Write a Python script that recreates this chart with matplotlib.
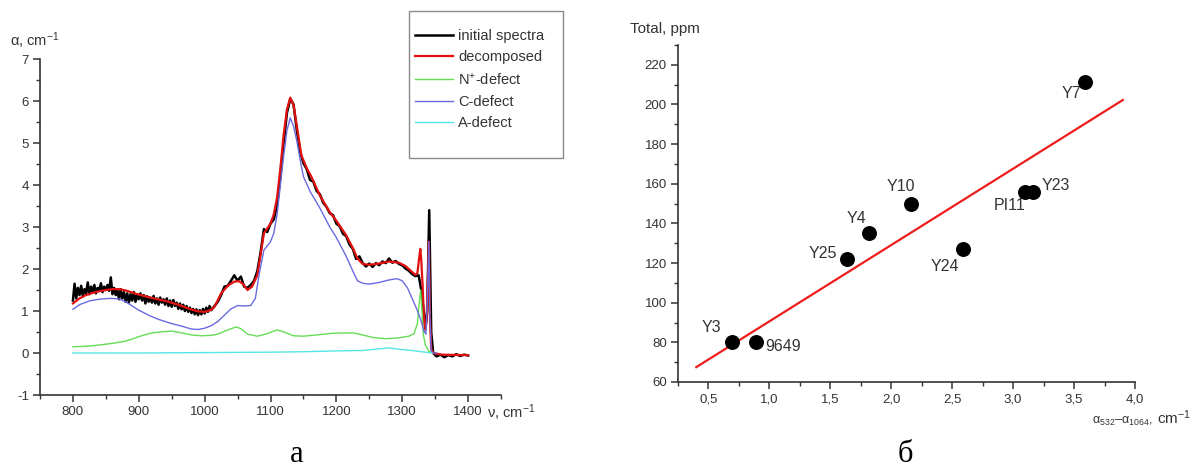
import matplotlib
matplotlib.use('Agg')
import matplotlib.pyplot as plt
import numpy as np
from matplotlib.ticker import MultipleLocator, FuncFormatter
from matplotlib.patches import Rectangle

plt.rcParams['font.family'] = ['Liberation Sans', 'DejaVu Sans']
plt.rcParams['mathtext.fontset'] = 'custom'
plt.rcParams['mathtext.rm'] = 'Liberation Sans'
plt.rcParams['mathtext.it'] = 'Liberation Sans:italic'
plt.rcParams['axes.unicode_minus'] = False

# ---- panel a: spectra ----
# noisy low-frequency part sampled every 2.5 cm-1, the rest every 5 cm-1
nu_init = list(np.arange(800, 1010.1, 2.5)) + [
    1015, 1020, 1025, 1030, 1035, 1040, 1045, 1050, 1055, 1060, 1065, 1070, 1075, 1080, 1085,
    1090, 1095, 1100, 1105, 1110, 1115, 1120, 1125, 1130, 1135, 1140, 1145, 1150, 1155, 1160,
    1165, 1170, 1175, 1180, 1185, 1190, 1195, 1200, 1205, 1210, 1215, 1220, 1225, 1230, 1235,
    1240, 1245, 1250, 1255, 1260, 1265, 1270, 1275, 1280, 1285, 1290, 1295, 1300, 1305, 1310,
    1315, 1320, 1325, 1330, 1335, 1338, 1341, 1344, 1347, 1352, 1358, 1364, 1370, 1376, 1382,
    1388, 1394, 1400]
a_init = [1.25, 1.65, 1.30, 1.55, 1.38, 1.60, 1.35, 1.52, 1.42, 1.68, 1.40, 1.58, 1.45, 1.62,
          1.42, 1.55, 1.48, 1.66, 1.45, 1.58, 1.50, 1.62, 1.48, 1.80, 1.40, 1.55, 1.38, 1.50,
          1.28, 1.52, 1.30, 1.45, 1.22, 1.42, 1.20, 1.40, 1.25, 1.45, 1.22, 1.38, 1.28, 1.42,
          1.25, 1.38, 1.18, 1.35, 1.22, 1.32, 1.20, 1.36, 1.18, 1.30, 1.15, 1.32, 1.20, 1.28,
          1.15, 1.30, 1.12, 1.25, 1.10, 1.26, 1.12, 1.20, 1.05, 1.18, 1.04, 1.15, 1.00, 1.12,
          0.98, 1.08, 0.95, 1.05, 0.92, 1.04, 0.90, 1.02, 0.92, 1.05, 0.94, 1.08, 0.98, 1.12,
          1.02,
          1.12, 1.22, 1.38, 1.58, 1.60, 1.72, 1.85, 1.72, 1.82, 1.58, 1.55, 1.62, 1.72, 1.95,
          2.40, 2.95, 2.88, 3.08, 3.18, 3.52, 4.20, 5.00, 5.72, 6.05, 5.92, 5.30, 4.78, 4.52,
          4.38, 4.12, 4.08, 3.86, 3.78, 3.58, 3.48, 3.33, 3.28, 3.08, 3.02, 2.84, 2.78, 2.58,
          2.48, 2.24, 2.30, 2.14, 2.06, 2.13, 2.05, 2.14, 2.09, 2.18, 2.14, 2.25, 2.15, 2.19,
          2.12, 2.09, 2.01, 1.96, 1.88, 1.83, 1.85, 1.40, 0.60, 1.00, 3.40, 0.50, 0.00, -0.08,
          -0.04, -0.10, -0.05, -0.08, -0.03, -0.07, -0.04, -0.06]

nu_dec = [800, 810, 820, 830, 840, 850, 860, 870, 880, 890, 900, 920, 940, 960, 975, 990, 1000,
          1010, 1015, 1025, 1035, 1045, 1052, 1058, 1065, 1072, 1080, 1085, 1090, 1100, 1105,
          1110, 1115, 1120, 1125, 1130, 1135, 1140, 1147, 1155, 1162, 1175, 1190, 1200, 1215,
          1225, 1232, 1240, 1250, 1265, 1280, 1295, 1305, 1315, 1320, 1323, 1326, 1327.5, 1329,
          1331, 1333, 1335, 1337, 1339, 1340.5, 1342, 1344, 1347, 1360, 1400]
a_dec = [1.18, 1.30, 1.38, 1.43, 1.47, 1.50, 1.52, 1.52, 1.49, 1.44, 1.39, 1.31, 1.24, 1.15,
         1.06, 0.99, 0.98, 1.03, 1.10, 1.42, 1.60, 1.70, 1.71, 1.65, 1.50, 1.58, 1.85, 2.35,
         2.85, 3.08, 3.30, 3.70, 4.40, 5.20, 5.80, 6.08, 5.90, 5.40, 4.70, 4.40, 4.20, 3.75,
         3.35, 3.15, 2.80, 2.50, 2.25, 2.12, 2.10, 2.13, 2.18, 2.15, 2.07, 1.93, 1.86, 1.90,
         2.30, 2.48, 2.20, 1.60, 0.80, 0.55, 0.75, 1.80, 2.65, 0.90, 0.10, 0.00, -0.04, -0.05]

nu_n = [800, 820, 840, 860, 876, 890, 900, 915, 930, 950, 965, 980, 995, 1010, 1020, 1035,
        1048, 1055, 1065, 1080, 1095, 1110, 1120, 1135, 1150, 1170, 1195, 1225, 1240, 1255,
        1275, 1295, 1310, 1318, 1323, 1326, 1328, 1330, 1332, 1335, 1340, 1345]
a_n = [0.15, 0.16, 0.19, 0.23, 0.27, 0.33, 0.39, 0.46, 0.50, 0.52, 0.48, 0.43, 0.41, 0.42,
       0.45, 0.55, 0.62, 0.58, 0.45, 0.40, 0.46, 0.55, 0.50, 0.41, 0.40, 0.43, 0.47, 0.48,
       0.43, 0.37, 0.34, 0.36, 0.40, 0.46, 0.70, 1.20, 1.50, 1.00, 0.45, 0.20, 0.05, 0.01]

nu_c = [800, 810, 825, 840, 855, 870, 880, 890, 900, 915, 930, 950, 965, 980, 990, 1000, 1010,
        1020, 1030, 1040, 1050, 1060, 1070, 1077, 1083, 1090, 1100, 1105, 1110, 1115, 1120,
        1125, 1130, 1135, 1140, 1145, 1150, 1160, 1175, 1190, 1200, 1215, 1225, 1232, 1240,
        1250, 1265, 1280, 1292, 1300, 1308, 1315, 1322, 1328, 1333, 1336, 1338, 1340.5, 1342,
        1344, 1347, 1352]
a_c = [1.04, 1.15, 1.24, 1.28, 1.30, 1.29, 1.22, 1.12, 1.02, 0.90, 0.80, 0.70, 0.64, 0.57,
       0.56, 0.59, 0.65, 0.75, 0.90, 1.05, 1.13, 1.12, 1.13, 1.30, 1.90, 2.45, 2.65, 2.85,
       3.30, 4.00, 4.70, 5.30, 5.60, 5.40, 5.05, 4.60, 4.20, 3.85, 3.45, 3.00, 2.75, 2.30,
       1.95, 1.72, 1.66, 1.64, 1.68, 1.74, 1.77, 1.72, 1.55, 1.30, 1.05, 0.80, 0.52, 0.45,
       1.20, 2.65, 0.90, 0.05, 0.00, 0.00]

nu_a = [800, 900, 1000, 1100, 1150, 1200, 1240, 1265, 1280, 1295, 1320, 1345]
a_a = [0.00, 0.00, 0.01, 0.02, 0.03, 0.05, 0.06, 0.10, 0.12, 0.09, 0.05, 0.00]

# ---- panel b: samples ----
samples = ['Y3', '9649', 'Y25', 'Y4', 'Y10', 'Y24', 'PI11', 'Y23', 'Y7']
alpha_diff = [0.69, 0.89, 1.64, 1.82, 2.16, 2.59, 3.10, 3.16, 3.59]
total_ppm = [80, 80, 122, 135, 150, 127, 156, 156, 211.5]
fit_slope = 38.5
fit_intercept = 52.1
fit_range = [0.4, 3.9]

W, H = 1192, 468
fig = plt.figure(figsize=(W / 100, H / 100), dpi=100)

def box(l, r, t, b):
    return [l / W, 1 - b / H, (r - l) / W, (b - t) / H]

tc = '#333333'

def style(ax):
    for s in ['top', 'right']:
        ax.spines[s].set_visible(False)
    for s in ['left', 'bottom']:
        ax.spines[s].set_color(tc)
        ax.spines[s].set_linewidth(1.2)
    ax.tick_params(which='major', direction='out', length=5, width=1.1, color=tc,
                   labelsize=9.5, labelcolor=tc, pad=3)
    ax.tick_params(which='minor', direction='out', length=3, width=1.0, color=tc)

# panel a
ax1 = fig.add_axes(box(40, 501, 59, 395))
ax1.plot(nu_init, a_init, color='black', lw=1.8, label='initial spectra')
ax1.plot(nu_dec, a_dec, color='#e31010', lw=1.6, label='decomposed')
ax1.plot(nu_n, a_n, color='#66dd55', lw=1.0, label='N$^{+}$-defect')
ax1.plot(nu_c, a_c, color='#6a6ae0', lw=1.0, label='C-defect')
ax1.plot(nu_a, a_a, color='#55e5e5', lw=1.0, label='A-defect')
ax1.set_xlim(750, 1450)
ax1.set_ylim(-1, 7)
ax1.set_xticks(range(800, 1401, 100))
ax1.xaxis.set_minor_locator(MultipleLocator(50))
ax1.yaxis.set_major_locator(MultipleLocator(1))
ax1.yaxis.set_minor_locator(MultipleLocator(0.5))
style(ax1)

fig.text(10 / W, 1 - 46 / H, 'α, cm$^{-1}$', fontsize=10.5, color=tc, va='baseline')
fig.text(487 / W, 1 - 418 / H, 'ν, cm$^{-1}$', fontsize=10.5, color=tc, va='baseline')

fig.patches.append(Rectangle((409 / W, 1 - 158 / H), 154 / W, 147 / H,
                             transform=fig.transFigure, fill=False,
                             edgecolor='#888888', lw=1.0))
h, l = ax1.get_legend_handles_labels()
fig.legend(h, l, loc='upper left', bbox_to_anchor=(415 / W, 1 - 29 / H), frameon=False,
           fontsize=10.5, handlelength=2.6, handletextpad=0.35, labelspacing=0.5,
           borderpad=0, borderaxespad=0, labelcolor=tc)

# panel b
ax2 = fig.add_axes(box(678, 1135, 45, 382))
xf = np.array(fit_range)
ax2.plot(xf, fit_slope * xf + fit_intercept, color='#ee1c1c', lw=1.6)
ax2.scatter(alpha_diff, total_ppm, s=95, color='black', zorder=3)
ax2.set_xlim(0.25, 4.0)
ax2.set_ylim(60, 230)
ax2.xaxis.set_minor_locator(MultipleLocator(0.25))
ax2.yaxis.set_minor_locator(MultipleLocator(10))
ax2.set_xticks([0.5, 1.0, 1.5, 2.0, 2.5, 3.0, 3.5, 4.0])
ax2.xaxis.set_major_formatter(FuncFormatter(lambda v, p: f'{v:.1f}'.replace('.', ',')))
ax2.set_yticks(range(60, 221, 20))
style(ax2)

# label offsets in pixels (dx, dy up) and alignment
offsets = {'Y3': (-20, 15, 'center'), '9649': (9, -4, 'left'), 'Y25': (-10, 6, 'right'),
           'Y4': (-13, 15, 'center'), 'Y10': (-10, 17, 'center'), 'Y24': (-18, -17, 'center'),
           'PI11': (-16, -14, 'center'), 'Y23': (9, 6, 'left'), 'Y7': (-14, -12, 'center')}
for name, x, y in zip(samples, alpha_diff, total_ppm):
    dx, dy, ha = offsets[name]
    ax2.annotate(name, (x, y), xytext=(dx * 0.72, dy * 0.72), textcoords='offset points',
                 ha=ha, va='center', fontsize=11.5, color=tc)

fig.text(630 / W, 1 - 33 / H, 'Total, ppm', fontsize=11, color=tc, va='baseline')
fig.text(1092 / W, 1 - 424 / H,
         r'$\mathregular{\alpha_{532}}$–$\mathregular{\alpha_{1064}}$,',
         fontsize=9, color=tc, va='baseline')
fig.text(1157 / W, 1 - 424 / H, 'cm$^{-1}$', fontsize=11, color=tc, va='baseline')

fig.text(297 / W, 1 - 462 / H, 'а', fontsize=22, family='Liberation Serif',
         ha='center', va='baseline')
fig.text(905 / W, 1 - 462 / H, 'б', fontsize=22, family='Liberation Serif',
         ha='center', va='baseline')

fig.savefig('out.png', dpi=100)
